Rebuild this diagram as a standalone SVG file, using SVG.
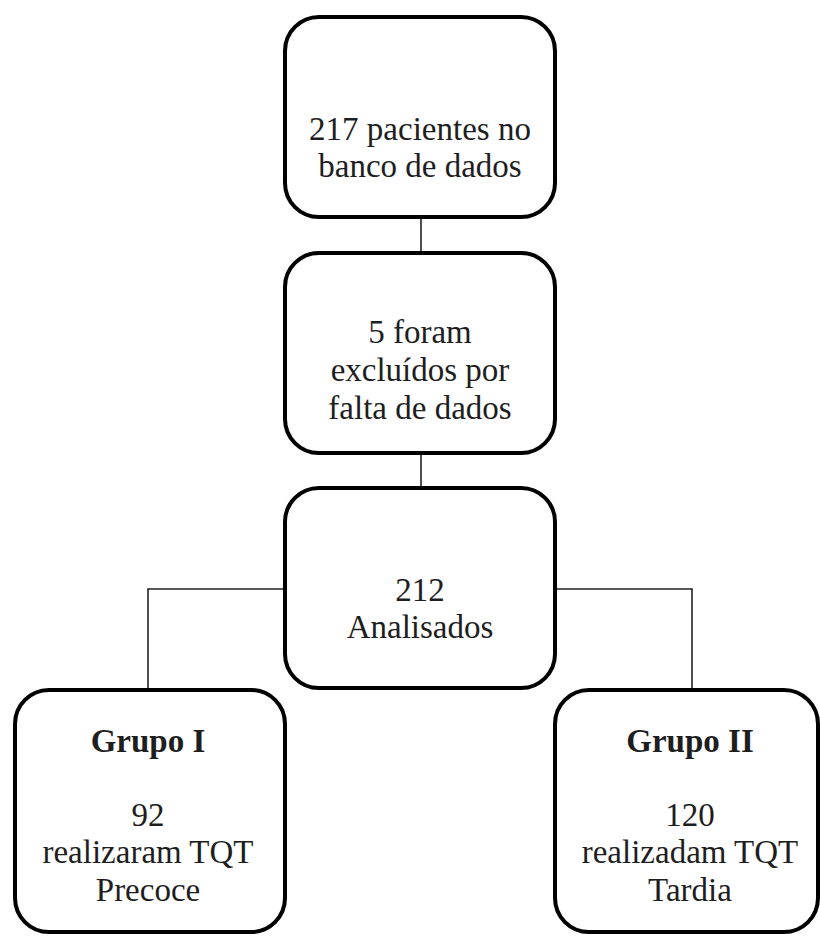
<svg xmlns="http://www.w3.org/2000/svg" width="820" height="936" viewBox="0 0 820 936">
<style>
.box{fill:#fff;stroke:#000;stroke-width:4}
.ln{fill:none;stroke:#222;stroke-width:1.6}
text{font-family:"Liberation Serif","Times New Roman",serif;font-size:33px;fill:#1e1e1e;text-anchor:middle}
.b{font-weight:bold}
</style>
<rect width="820" height="936" fill="#fff"/>
<g id="connectors">
<line class="ln" x1="421" y1="217" x2="421" y2="253"/>
<line class="ln" x1="421" y1="453" x2="421" y2="488"/>
<polyline class="ln" points="285,589 148,589 148,690"/>
<polyline class="ln" points="555,589 692,589 692,690"/>
</g>
<g id="n1">
<rect class="box" x="285" y="17" width="270" height="200" rx="34"/>
<text x="420" y="140">217 pacientes no</text>
<text x="420" y="177">banco de dados</text>
</g>
<g id="n2">
<rect class="box" x="285" y="253" width="270" height="200" rx="34"/>
<text x="420" y="343">5 foram</text>
<text x="420" y="381">excluídos por</text>
<text x="420" y="419">falta de dados</text>
</g>
<g id="n3">
<rect class="box" x="285" y="488" width="270" height="200" rx="34"/>
<text x="420" y="601">212</text>
<text x="420" y="638">Analisados</text>
</g>
<g id="n4">
<rect class="box" x="15" y="690" width="270" height="242" rx="34"/>
<text class="b" x="148" y="752">Grupo I</text>
<text x="148" y="826">92</text>
<text x="148" y="863">realizaram TQT</text>
<text x="148" y="901">Precoce</text>
</g>
<g id="n5">
<rect class="box" x="555" y="690" width="263" height="242" rx="34"/>
<text class="b" x="690" y="752">Grupo II</text>
<text x="690" y="826">120</text>
<text x="690" y="863">realizadam TQT</text>
<text x="690" y="901">Tardia</text>
</g>
</svg>
